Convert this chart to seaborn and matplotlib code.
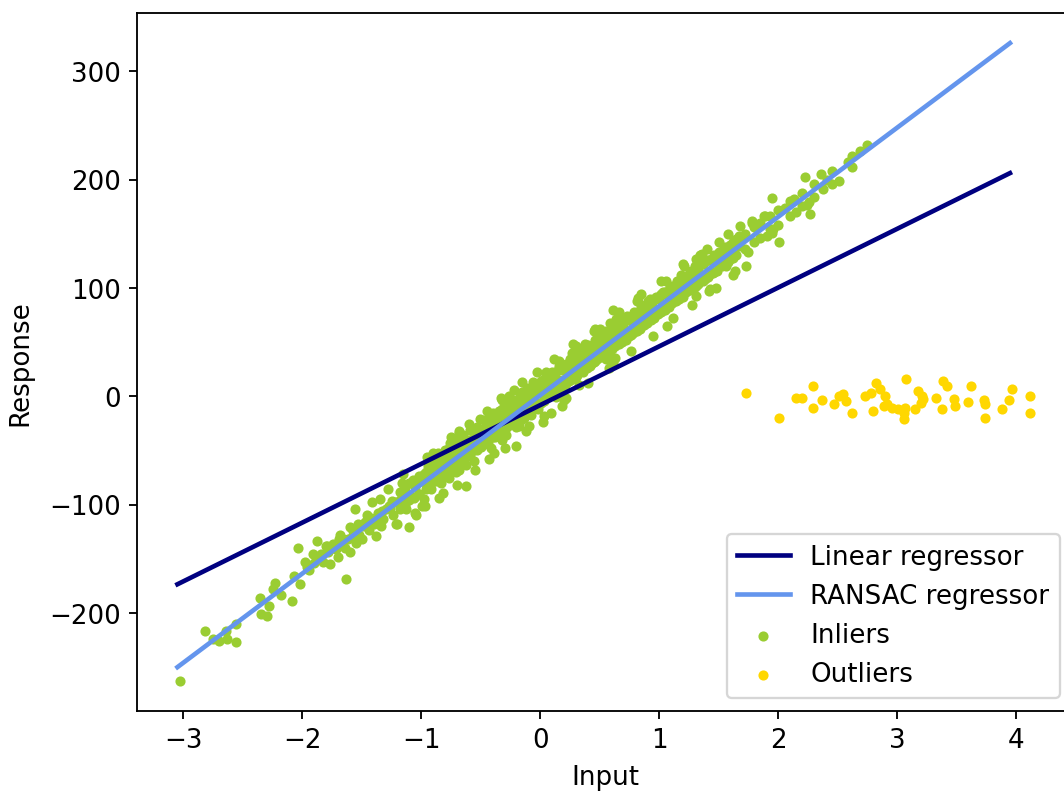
import matplotlib
matplotlib.use("Agg")
import matplotlib.pyplot as plt
import numpy as np
import seaborn as sns

# fitted lines, evaluated at the ends of the input range
line_x = [-3.05, 3.95]
linear_y = [-173.5, 206.0]
ransac_y = [-250.0, 326.0]

# inlier points (x, y)
inlier_points = [
    (-3.03, -263), (-2.82, -217), (-2.75, -224), (-2.70, -226), (-2.64, -217),
    (-2.63, -224), (-2.56, -227), (-2.56, -210), (-2.36, -186), (-2.35, -201),
    (-2.30, -203), (-2.28, -194), (-2.23, -172), (-2.25, -178), (-2.18, -183),
    (-2.09, -189), (-2.04, -140), (-2.07, -166), (-2.02, -173), (-1.98, -153),
    (-1.94, -160), (-1.88, -134), (-1.80, -138), (-1.83, -153), (-1.77, -155),
    (-1.72, -141), (-1.63, -169), (-1.66, -132), (-1.60, -144), (-1.56, -104),
    (-1.55, -135), (-1.49, -120), (-1.44, -123), (-1.38, -129), (-1.32, -113),
    (-1.27, -101), (-1.20, -118), (-1.10, -121), (-1.13, -104), (-1.04, -110),
    (-0.99, -101), (-1.41, -98), (-1.79, -138), (-1.69, -132), (-1.60, -121),
    (-1.46, -110), (-1.35, -95), (-1.28, -86), (-1.21, -118), (-1.16, -80),
    (-1.07, -77), (-0.97, -101), (-0.96, -80), (-0.90, -52), (-0.88, -64),
    (-0.82, -89), (-0.76, -43), (-0.68, -34), (-0.71, -70), (-0.62, -83),
    (-0.65, -52),
    (-1.52, -128), (-1.47, -116), (-1.42, -112), (-1.36, -108), (-1.30, -104),
    (-1.25, -97), (-1.18, -96), (-1.14, -88), (-1.09, -92), (-1.05, -84),
    (-1.02, -90), (-1.34, -120), (-1.24, -110), (-1.12, -96), (-1.00, -78),
    (-0.94, -72), (-0.92, -86), (-1.58, -130), (-1.64, -140), (-1.70, -148),
    (-1.75, -140), (-1.86, -150), (-1.91, -146), (-1.50, -132), (-1.40, -118),
    (-1.96, -158), (-1.90, -154), (-1.84, -146), (-1.78, -144), (-1.74, -136),
    (-1.68, -128), (-1.62, -132), (-1.57, -124), (-1.53, -118), (-1.44, -114),
    (-1.38, -116), (-1.33, -106), (-1.26, -103), (-1.22, -98),
    (-0.98, -72), (-0.98, -95), (-0.94, -64), (-0.94, -84), (-0.90, -58),
    (-0.90, -77), (-0.86, -74), (-0.86, -52), (-0.83, -80), (-0.83, -60),
    (-0.80, -57), (-0.80, -71), (-0.77, -48), (-0.77, -75), (-0.74, -66),
    (-0.74, -44), (-0.71, -51), (-0.71, -62), (-0.68, -40), (-0.68, -68),
    (-0.65, -58), (-0.65, -36), (-0.62, -45), (-0.62, -63), (-0.59, -31),
    (-0.59, -54), (-0.56, -40), (-0.56, -60), (-0.53, -50), (-0.53, -28),
    (-0.50, -36), (-0.50, -47), (-0.47, -22), (-0.47, -44), (-0.44, -40),
    (-0.44, -30), (-0.41, -20), (-0.41, -48), (-0.38, -27), (-0.38, -38),
    (-0.35, -14), (-0.35, -33), (-0.32, -30), (-0.32, -12), (-0.29, -18),
    (-0.29, -36), (-0.26, -6), (-0.26, -25), (-0.23, -22), (-0.23, -3),
    (-0.20, -10), (-0.20, -28), (-0.17, 2), (-0.17, -18), (-0.14, -6),
    (-0.14, -20), (-0.11, 8), (-0.11, -14), (-0.08, -1), (-0.08, -17),
    (-0.05, 10), (-0.05, -9), (-0.02, 5), (-0.02, -12), (0.01, 14),
    (0.01, -6), (0.04, -2), (0.04, 12), (0.07, 18), (0.07, 1),
    (0.10, 4), (0.10, 22), (0.13, 17), (0.13, -1), (0.16, 8),
    (0.16, 28), (0.19, 24), (0.19, 10), (0.22, 30), (0.22, 12),
    (0.25, 15), (0.25, 34), (0.28, 28), (0.28, 17), (0.31, 40),
    (0.31, 20), (0.34, 24), (0.34, 36), (0.37, 44), (0.37, 26),
    (0.40, 29), (0.40, 47), (0.43, 42), (0.43, 30), (0.46, 52),
    (0.46, 33), (0.49, 36), (0.49, 55), (0.52, 50), (0.52, 38),
    (0.55, 60), (0.55, 41), (0.58, 44), (0.58, 57), (0.61, 64),
    (0.61, 46), (0.64, 58), (0.64, 48), (0.67, 70), (0.67, 50),
    (0.70, 65), (0.70, 53), (0.73, 74), (0.73, 56), (0.76, 57),
    (0.76, 70), (0.79, 78), (0.79, 60), (0.82, 62), (0.82, 74),
    (0.85, 84), (0.85, 66), (0.88, 80), (0.88, 68), (0.91, 88),
    (0.91, 70), (0.94, 72), (0.94, 86), (0.97, 92), (0.97, 76),
    (1.00, 78), (1.00, 90), (1.03, 96), (1.03, 80), (1.06, 94),
    (1.06, 84), (1.09, 102), (1.09, 86), (1.12, 88), (1.12, 100),
    (1.15, 106), (1.15, 91), (1.18, 104), (1.18, 112), (1.21, 95),
    (1.21, 110), (1.24, 112), (1.24, 98), (1.27, 116), (1.27, 100),
    (1.30, 114), (1.30, 120), (1.34, 106), (1.34, 122), (1.38, 124),
    (1.38, 110), (1.42, 112), (1.42, 126), (1.46, 130), (1.46, 115),
    (1.50, 120), (1.50, 133), (1.55, 124), (1.55, 138), (1.60, 140),
    (1.60, 127), (1.65, 130), (1.65, 145),
    (-1.18, -88), (-1.18, -104), (-1.14, -100), (-1.14, -84), (-1.10, -80),
    (-1.10, -96), (-1.06, -94), (-1.06, -78), (-1.02, -74), (-1.02, -90),
    (-0.96, -86), (-0.96, -70), (-0.92, -66), (-0.92, -80), (-0.88, -78),
    (-0.88, -60), (-0.84, -62), (-0.84, -76), (-0.80, -70), (-0.80, -50),
    (-0.76, -55), (-0.76, -68), (-0.72, -64), (-0.72, -46), (-0.68, -48),
    (-0.68, -60), (-0.64, -58), (-0.64, -42), (-0.60, -40), (-0.60, -55),
    (-0.56, -50), (-0.56, -34), (-0.52, -36), (-0.52, -48), (-0.48, -44),
    (-0.48, -30), (-0.44, -28), (-0.44, -42), (-0.40, -38), (-0.40, -24),
    (-0.36, -22), (-0.36, -34), (-0.32, -20), (-0.32, -40), (-0.28, -28),
    (-0.28, -14), (-0.24, -12), (-0.24, -26), (-0.20, -20), (-0.20, -6),
    (-0.16, -4), (-0.16, -22), (-0.12, -14), (-0.12, 0), (-0.08, 4),
    (-0.08, -10), (-0.04, -8), (-0.04, 6), (0.00, 9), (0.00, -6),
    (0.03, -4), (0.03, 16), (0.06, 14), (0.06, 0), (0.09, 2),
    (0.09, 18), (0.12, 20), (0.12, 4), (0.15, 6), (0.15, 24),
    (0.18, 26), (0.18, 8), (0.21, 10), (0.21, 28), (0.24, 30),
    (0.24, 14), (0.27, 16), (0.27, 32), (0.30, 34), (0.30, 18),
    (0.33, 22), (0.33, 38), (0.36, 38), (0.36, 22), (0.39, 26),
    (0.39, 42), (0.42, 44), (0.42, 28), (0.45, 32), (0.45, 48),
    (0.48, 50), (0.48, 34), (0.51, 36), (0.51, 52), (0.54, 54),
    (0.54, 38), (0.57, 40), (0.57, 58), (0.60, 60), (0.60, 44),
    (0.63, 46), (0.63, 62), (0.66, 64), (0.66, 48), (0.69, 50),
    (0.69, 68), (0.72, 70), (0.72, 52), (0.75, 56), (0.75, 72),
    (0.78, 74), (0.78, 58), (0.81, 60), (0.81, 76), (0.84, 80),
    (0.84, 62), (0.87, 66), (0.87, 82), (0.90, 84), (0.90, 68),
    (0.93, 70), (0.93, 86), (0.96, 90), (0.96, 72), (0.99, 76),
    (0.99, 92), (1.02, 94), (1.02, 78), (1.05, 80), (1.05, 96),
    (1.08, 98), (1.08, 82), (1.11, 86), (1.11, 100), (1.14, 104),
    (1.14, 88), (1.17, 90), (1.17, 106), (1.20, 108), (1.20, 92),
    (1.23, 96), (1.23, 110), (1.26, 112), (1.26, 98), (1.29, 100),
    (1.29, 116), (1.33, 118), (1.33, 104), (1.37, 106), (1.37, 122),
    (1.41, 126), (1.41, 110), (1.45, 114), (1.45, 128), (1.49, 130),
    (1.49, 116), (1.53, 120), (1.53, 134), (1.58, 138), (1.58, 124),
    (1.62, 128), (1.62, 142), (1.72, 150), (1.72, 136), (1.80, 142),
    (1.80, 156), (1.85, 160), (1.85, 146), (1.93, 166), (1.93, 154),
    (2.00, 158), (2.00, 172), (2.10, 180), (2.10, 166), (2.20, 188),
    (2.20, 176), (2.30, 196), (2.30, 184), (2.45, 196), (2.45, 208),
    (2.62, 222), (2.62, 212),
    (-0.66, -54), (-0.60, -44), (-0.54, -46), (-0.48, -40), (-0.42, -34),
    (-0.36, -26), (-0.30, -24), (-0.24, -16), (-0.18, -12), (-0.12, -9),
    (-0.06, -2), (0.00, 3), (0.06, 6), (0.12, 12), (0.18, 15),
    (0.24, 22), (0.30, 26), (0.36, 30), (0.42, 36), (0.48, 42),
    (0.54, 46), (0.60, 50), (0.66, 56), (0.72, 60), (0.78, 65),
    (0.84, 70), (0.90, 76), (0.96, 80), (0.33, 10), (0.27, 40),
    (-0.39, -52), (-0.15, 4), (0.45, 60), (0.63, 35), (0.81, 88),
    (0.18, -9), (-0.20, -46),
    (-0.68, -32), (-0.51, -21), (-0.40, -15), (-0.32, -3), (-0.26, 0),
    (-0.15, 13), (-0.06, 13), (0.05, 22), (0.16, 33), (0.30, 46),
    (0.38, 48), (0.50, 59), (0.61, 80), (0.59, 68), (0.20, -3),
    (0.09, -15), (0.02, -24), (-0.09, -27), (-0.18, -27), (0.55, 34),
    (0.61, 31), (0.50, 62), (0.64, 71), (0.82, 91), (0.80, 74),
    (0.92, 90), (1.06, 106), (1.07, 65), (1.17, 99), (1.21, 120),
    (1.31, 127), (1.31, 102), (1.36, 131), (1.39, 108), (1.43, 99),
    (1.50, 142), (1.56, 120), (1.67, 139), (1.64, 116), (1.68, 157),
    (1.73, 120), (1.75, 133), (1.78, 160), (1.88, 166), (1.67, 148),
    (1.78, 162), (1.89, 166), (1.95, 183), (2.01, 142), (1.91, 148),
    (1.96, 154), (2.06, 174), (2.13, 182), (2.15, 170), (2.24, 177),
    (2.27, 168), (2.23, 202), (2.36, 205), (2.38, 191), (2.41, 200),
    (2.51, 199), (2.59, 216), (2.69, 226), (2.75, 232), (2.26, 179),
    (1.95, 151), (1.34, 130), (1.31, 93), (1.42, 97), (1.70, 146),
    (-1.15, -72), (-1.05, -108), (-0.95, -56), (-0.85, -94), (-0.75, -38),
    (-0.70, -82), (-0.60, -26), (-0.55, -68), (-0.45, -14), (-0.43, -58),
    (-0.33, -2), (-0.30, -48), (-0.22, 6), (-0.12, -32), (-0.03, 22),
    (0.03, -18), (0.12, 34), (0.22, -2), (0.28, 48), (0.40, 12),
    (0.46, 62), (0.58, 26), (0.66, 78), (0.76, 42), (0.85, 94),
    (0.95, 56), (1.02, 106), (1.12, 72), (1.20, 122), (1.28, 84),
    (1.40, 136), (1.48, 100), (1.58, 150), (1.62, 112), (1.30, 106),
]

# outlier points
outlier_x = [1.73, 2.01, 2.15, 2.20, 2.29, 2.29, 2.37, 2.47, 2.51, 2.55,
             2.57, 2.62, 2.73, 2.78, 2.80, 2.82, 2.86, 2.90, 2.92, 2.89,
             2.96, 3.01, 3.06, 3.07, 3.08, 3.06, 3.15, 3.18, 3.20, 3.21,
             3.22, 3.33, 3.38, 3.39, 3.42, 3.48, 3.49, 3.60, 3.62, 3.73,
             3.74, 3.74, 3.88, 3.94, 3.97, 4.12, 4.12]
outlier_y = [3.4, -19.7, -1.2, -1.2, 9.5, -10.5, -3.4, -6.8, 0.3, 1.8,
             -4.3, -15.0, 0.3, 3.4, -13.5, 12.6, 6.5, 0.3, -7.4, -9.0,
             -10.5, -12.0, -21.2, -10.5, 15.7, -15.0, -12.0, 4.9, -5.8, 0.3,
             -2.8, -1.2, -12.0, 14.1, 9.5, -2.8, -9.0, -5.2, 9.5, -3.4,
             -7.4, -19.7, -12.0, -3.4, 7.0, 0.3, -15.0]

inliers = np.array(inlier_points)

plt.rcParams["font.size"] = 11.3

fig = plt.figure(figsize=(6.4, 4.78), dpi=166.25)
ax = fig.add_axes([137 / 1064, 1 - 712 / 795, 936 / 1064, 698 / 795])

# lines first so the legend lists them first (they still sit above the dots)
sns.lineplot(x=line_x, y=linear_y, color="navy", linewidth=2, label="Linear regressor", ax=ax)
sns.lineplot(x=line_x, y=ransac_y, color="cornflowerblue", linewidth=2, label="RANSAC regressor", ax=ax)
sns.scatterplot(x=inliers[:, 0], y=inliers[:, 1], color="yellowgreen", marker=".",
                s=46, edgecolor="yellowgreen", linewidth=1, label="Inliers", ax=ax)
sns.scatterplot(x=outlier_x, y=outlier_y, color="gold", marker=".",
                s=46, edgecolor="gold", linewidth=1, label="Outliers", ax=ax)

ax.set_xlim(-3.39, 4.48)
ax.set_ylim(-290.5, 353.5)
ax.set_xlabel("Input", labelpad=5)
ax.set_ylabel("Response", labelpad=7)
ax.legend(loc="lower right")

fig.savefig("out.png", dpi=166.25)
